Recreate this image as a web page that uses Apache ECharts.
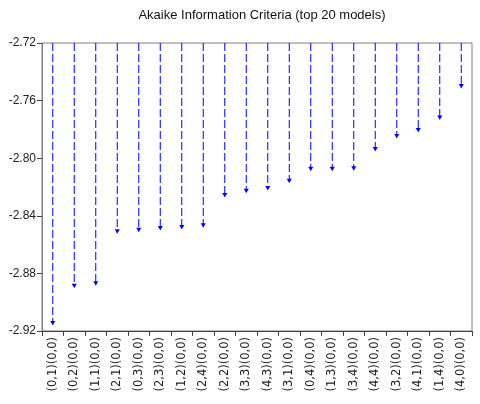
<!DOCTYPE html>
<html>
<head>
<meta charset="utf-8">
<script src="https://cdn.jsdelivr.net/npm/echarts@6/dist/echarts.min.js"></script>
<style>html,body{margin:0;padding:0;background:#fff;}#c{width:480px;height:404px;}</style>
</head>
<body>
<div id="c"></div>
<script>
const titleText = 'Akaike Information Criteria (top 20 models)';
const categories = ['(0,1)(0,0)','(0,2)(0,0)','(1,1)(0,0)','(2,1)(0,0)','(0,3)(0,0)','(2,3)(0,0)','(1,2)(0,0)','(2,4)(0,0)','(2,2)(0,0)','(3,3)(0,0)','(4,3)(0,0)','(3,1)(0,0)','(0,4)(0,0)','(1,3)(0,0)','(3,4)(0,0)','(4,4)(0,0)','(3,2)(0,0)','(4,1)(0,0)','(1,4)(0,0)','(4,0)(0,0)'];
const aicValues = [-2.9158,-2.8899,-2.8883,-2.8522,-2.8510,-2.8499,-2.8492,-2.8480,-2.8269,-2.8240,-2.8220,-2.8170,-2.8087,-2.8087,-2.8084,-2.7950,-2.7860,-2.7818,-2.7732,-2.7513];
const yMin = -2.92, yMax = -2.72, yStep = 0.04;

const chart = echarts.init(document.getElementById('c'), null, {renderer:'canvas'});
const data = aicValues.map((v,i)=>[i,v]);
chart.setOption({
  animation:false,
  backgroundColor:'#fff',
  title:{text:titleText,left:257,textAlign:'center',top:4,textStyle:{fontFamily:'Liberation Sans, Arial',fontSize:13,fontWeight:'normal',color:'#111'}},
  grid:{left:42,right:8,top:43,bottom:73,show:true,borderColor:'#808080',borderWidth:1,backgroundColor:'transparent'},
  xAxis:{type:'category',data:categories,boundaryGap:true,
    axisLine:{lineStyle:{color:'#404040',width:1}},
    axisTick:{show:true,length:5,inside:false,lineStyle:{color:'#404040'}},
    axisLabel:{rotate:90,interval:0,margin:6,fontFamily:'DejaVu Sans',fontSize:11.5,color:'#222'},
    splitLine:{show:false}},
  yAxis:{type:'value',min:yMin,max:yMax,interval:yStep,
    axisLine:{show:true,lineStyle:{color:'#808080',width:1}},
    axisTick:{show:true,length:5,lineStyle:{color:'#404040'}},
    axisLabel:{formatter:v=>v.toFixed(2),margin:6,fontFamily:'Liberation Sans, Arial',fontSize:12,color:'#222'},
    splitLine:{show:false}},
  series:[{
    type:'custom',
    data:data,
    encode:{x:0,y:1},
    clip:false,
    renderItem:function(params,api){
      const x = api.value(0);
      const top = api.coord([x,yMax]);
      const end = api.coord([x,api.value(1)]);
      const color = '#0000ff';
      return {type:'group',children:[
        {type:'line',shape:{x1:top[0],y1:top[1],x2:end[0],y2:end[1]-2},
          style:{stroke:color,lineWidth:1,lineDash:[8,3]}},
        {type:'polygon',shape:{points:[[end[0]-2.5,end[1]-4],[end[0]+2.5,end[1]-4],[end[0],end[1]+0.5]]},
          style:{fill:color,stroke:null}}
      ]};
    }
  }]
});
</script>
</body>
</html>
